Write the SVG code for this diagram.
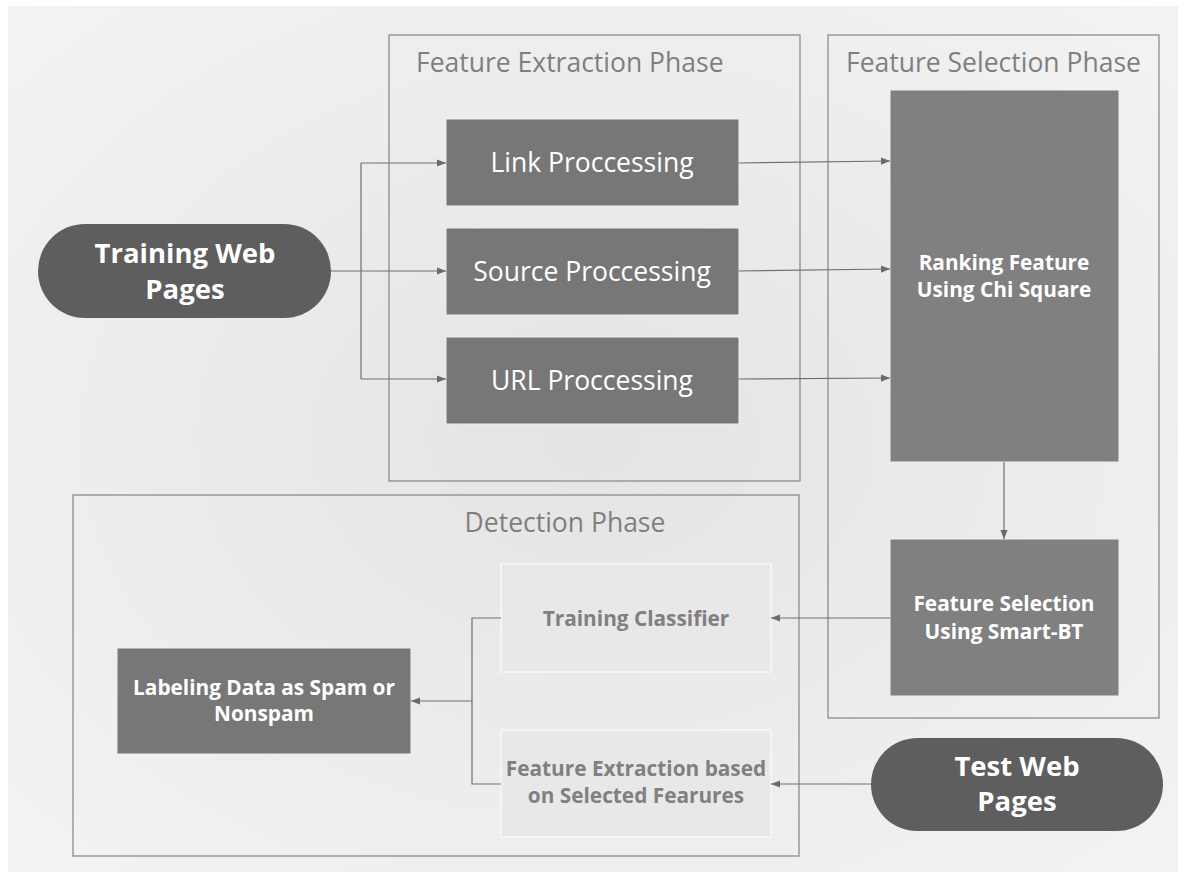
<svg xmlns="http://www.w3.org/2000/svg" width="1186" height="879" viewBox="0 0 1186 879">
<defs>
<radialGradient id="bg" cx="50%" cy="50%" r="70%">
<stop offset="0" stop-color="#e4e4e4"/>
<stop offset="1" stop-color="#f3f3f3"/>
</radialGradient>
<marker id="ah" viewBox="0 0 10 10" refX="10" refY="5" markerWidth="9" markerHeight="9" markerUnits="userSpaceOnUse" orient="auto">
<path d="M0,1 L10,5 L0,9 z" fill="#6b6b6b"/>
</marker>
</defs>
<style>
.phase{fill:none;stroke:#8c8c8c;stroke-width:1.3}
.plabel{font-family:"Segoe UI","Open Sans","Liberation Sans",sans-serif;font-size:26.5px;fill:#7f7f7f}
.proc{fill:#777777;stroke:#f0f0f0;stroke-width:1}
.proct{font-family:"Segoe UI","Open Sans","Liberation Sans",sans-serif;font-size:26.5px;fill:#ffffff;text-anchor:middle}
.dark{fill:#808080;stroke:#f0f0f0;stroke-width:1}
.bt{font-family:"Segoe UI","Open Sans","Liberation Sans",sans-serif;font-weight:bold;font-size:20.8px;fill:#ffffff;text-anchor:middle}
.pill{fill:#5e5e5e}
.pt{font-family:"Segoe UI","Open Sans","Liberation Sans",sans-serif;font-weight:bold;font-size:27.5px;fill:#ffffff;text-anchor:middle}
.light{fill:#e8e8e8;stroke:#fafafa;stroke-width:1.3}
.lt{font-family:"Segoe UI","Open Sans","Liberation Sans",sans-serif;font-weight:bold;font-size:20.8px;fill:#808080;text-anchor:middle}
.con{fill:none;stroke:#707070;stroke-width:1.2}
</style>
<rect x="0" y="0" width="1186" height="879" fill="#ffffff"/>
<rect x="8" y="6" width="1170" height="866" fill="url(#bg)"/>

<g id="phase-extraction">
<rect class="phase" x="389" y="35" width="411" height="446"/>
<text class="plabel" x="416" y="72">Feature Extraction Phase</text>
</g>
<g id="phase-selection">
<rect class="phase" x="828" y="35" width="331" height="683"/>
<text class="plabel" x="846" y="72">Feature Selection Phase</text>
</g>
<g id="phase-detection">
<rect class="phase" x="73" y="495" width="726" height="361"/>
<text class="plabel" x="565" y="532" text-anchor="middle">Detection Phase</text>
</g>

<g id="training-web-pages">
<rect class="pill" x="38" y="224" width="293" height="94" rx="47"/>
<text class="pt" x="185" y="263">Training Web</text>
<text class="pt" x="185" y="299">Pages</text>
</g>
<g id="link-processing">
<rect class="proc" x="446" y="119" width="293" height="87"/>
<text class="proct" x="592" y="172">Link Proccessing</text>
</g>
<g id="source-processing">
<rect class="proc" x="446" y="228" width="293" height="87"/>
<text class="proct" x="592" y="281">Source Proccessing</text>
</g>
<g id="url-processing">
<rect class="proc" x="446" y="337" width="293" height="87"/>
<text class="proct" x="592" y="390">URL Proccessing</text>
</g>
<g id="ranking">
<rect class="dark" x="890" y="90" width="229" height="372"/>
<text class="bt" x="1004" y="270">Ranking Feature</text>
<text class="bt" x="1004" y="297">Using Chi Square</text>
</g>
<g id="feature-selection">
<rect class="dark" x="890" y="539" width="229" height="157"/>
<text class="bt" x="1004" y="611">Feature Selection</text>
<text class="bt" x="1004" y="639">Using Smart-BT</text>
</g>
<g id="test-web-pages">
<rect class="pill" x="871" y="738" width="292" height="93" rx="46.5"/>
<text class="pt" x="1017" y="776">Test Web</text>
<text class="pt" x="1017" y="811">Pages</text>
</g>
<g id="training-classifier">
<rect class="light" x="501" y="564" width="270" height="108"/>
<text class="lt" x="636" y="626">Training Classifier</text>
</g>
<g id="feature-extraction-selected">
<rect class="light" x="501" y="730" width="270" height="107"/>
<text class="lt" x="636" y="776">Feature Extraction based</text>
<text class="lt" x="636" y="803">on Selected Fearures</text>
</g>
<g id="labeling">
<rect class="proc" x="117" y="648" width="294" height="106"/>
<text class="bt" x="264" y="695">Labeling Data as Spam or</text>
<text class="bt" x="264" y="721">Nonspam</text>
</g>

<g id="connectors">
<path class="con" d="M331,271 H446" marker-end="url(#ah)"/>
<path class="con" d="M361,163 V379"/>
<path class="con" d="M361,163 H446" marker-end="url(#ah)"/>
<path class="con" d="M361,379 H446" marker-end="url(#ah)"/>
<path class="con" d="M739,163 L890,161" marker-end="url(#ah)"/>
<path class="con" d="M739,271 L890,269" marker-end="url(#ah)"/>
<path class="con" d="M739,379 L890,378" marker-end="url(#ah)"/>
<path class="con" d="M1004,462 V539" marker-end="url(#ah)"/>
<path class="con" d="M890,618 H771" marker-end="url(#ah)"/>
<path class="con" d="M871,784 H771" marker-end="url(#ah)"/>
<path class="con" d="M501,618 H472 V784 H501"/>
<path class="con" d="M472,701 H411" marker-end="url(#ah)"/>
</g>
</svg>
